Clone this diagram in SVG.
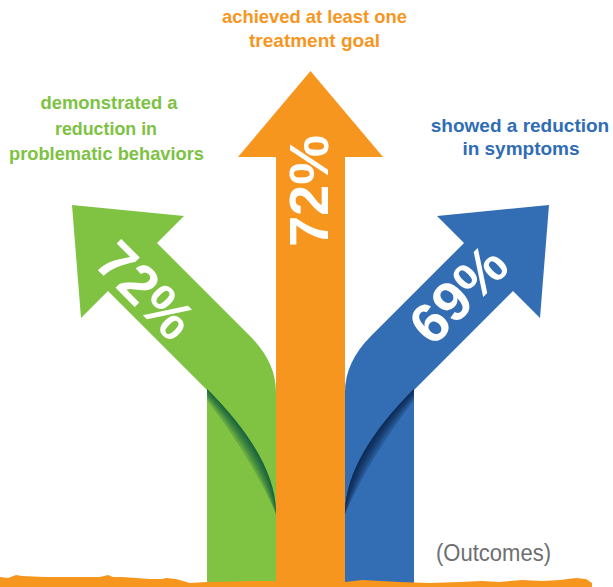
<svg xmlns="http://www.w3.org/2000/svg" width="613" height="587" viewBox="0 0 613 587">
<style>
.lbl{font-family:"Liberation Sans",Arial,sans-serif;font-weight:bold;font-size:19px;text-anchor:middle}
.pct{font-family:"Liberation Sans",Arial,sans-serif;font-weight:bold;font-size:56px;fill:#fff;text-anchor:middle}
.gsh{fill:#06513f;fill-opacity:0.24}
.bsh{fill:#081f45;fill-opacity:0.26}
</style>
<defs>
<clipPath id="cg"><rect x="207" y="380" width="69" height="210"/></clipPath>
<clipPath id="cb"><rect x="345" y="380" width="69" height="210"/></clipPath>
</defs>
<rect width="613" height="587" fill="#fff"/>

<g id="arrow-green">
<path d="M276,584 L276,392 Q276,362 250,336 L157,243 L184,216 L72,205 L81,318 L108,291 L207,390 L207,584 Z" fill="#80c342"/>
<g clip-path="url(#cg)">
<path class="gsh" d="M207,389 Q276,458 276,514 Q273,458 207,390 Z"/>
<path class="gsh" d="M207,389 Q276,458 276,514 Q270,458 207,391 Z"/>
<path class="gsh" d="M207,389 Q276,458 276,514 Q266,458 207,393 Z"/>
<path class="gsh" d="M207,389 Q276,458 276,514 Q262,458 207,395 Z"/>
<path class="gsh" d="M207,389 Q276,458 276,514 Q257,458 207,397 Z"/>
<path class="gsh" d="M207,389 Q276,458 276,514 Q252,458 207,400 Z"/>
</g>
<text class="pct" transform="translate(146,290) rotate(45)" x="0" y="20">72%</text>
</g>

<g id="arrow-blue">
<path d="M345,584 L345,392 Q345,362 371,336 L464,243 L437,216 L549,205 L540,318 L513,291 L414,390 L414,584 Z" fill="#336eb4"/>
<g clip-path="url(#cb)">
<path class="bsh" d="M414,389 Q345,458 345,514 Q348,458 414,390 Z"/>
<path class="bsh" d="M414,389 Q345,458 345,514 Q351,458 414,391 Z"/>
<path class="bsh" d="M414,389 Q345,458 345,514 Q355,458 414,393 Z"/>
<path class="bsh" d="M414,389 Q345,458 345,514 Q359,458 414,395 Z"/>
<path class="bsh" d="M414,389 Q345,458 345,514 Q364,458 414,397 Z"/>
<path class="bsh" d="M414,389 Q345,458 345,514 Q369,458 414,400 Z"/>
</g>
<text class="pct" transform="translate(458,294) rotate(-45)" x="0" y="20">69%</text>
</g>

<g id="arrow-orange">
<path d="M276,584 L276,157 L238,157 L310.5,71 L383,157 L345,157 L345,584 Z" fill="#f7961f"/>
<text class="pct" transform="translate(308,191) rotate(-90)" x="0" y="20">72%</text>
</g>

<g id="ground">
<path d="M0,587 L0,577 L8,578 L16,575 L22,576 L45,577 L100,577 L108,575 L113,577 L122,577 L150,579 L162,579 L166,578 L176,579 L190,583 L207,582 L260,581 L300,581 L345,582 L362,580 L400,582 L430,583 L460,582 L482,581 L500,582 L522,580 L542,581 L560,580 L576,578 L586,579 L592,583 L592,587 Z" fill="#f7961f"/>
</g>

<g id="label-green" fill="#7dc243">
<text class="lbl" x="109" y="109" textLength="137" lengthAdjust="spacingAndGlyphs">demonstrated a</text>
<text class="lbl" x="106" y="135" textLength="102" lengthAdjust="spacingAndGlyphs">reduction in</text>
<text class="lbl" x="106.5" y="160" textLength="195" lengthAdjust="spacingAndGlyphs">problematic behaviors</text>
</g>
<g id="label-orange" fill="#f7961f">
<text class="lbl" x="314.5" y="23" textLength="185" lengthAdjust="spacingAndGlyphs">achieved at least one</text>
<text class="lbl" x="314.5" y="47" textLength="131" lengthAdjust="spacingAndGlyphs">treatment goal</text>
</g>
<g id="label-blue" fill="#2f6db4">
<text class="lbl" x="520" y="132" font-size="18">showed a reduction</text>
<text class="lbl" x="521" y="155" font-size="18">in symptoms</text>
</g>
<g id="caption">
<text x="436" y="561" font-family="Liberation Sans, Arial, sans-serif" font-size="23" fill="#6d6e71" textLength="115" lengthAdjust="spacingAndGlyphs">(Outcomes)</text>
</g>
</svg>
